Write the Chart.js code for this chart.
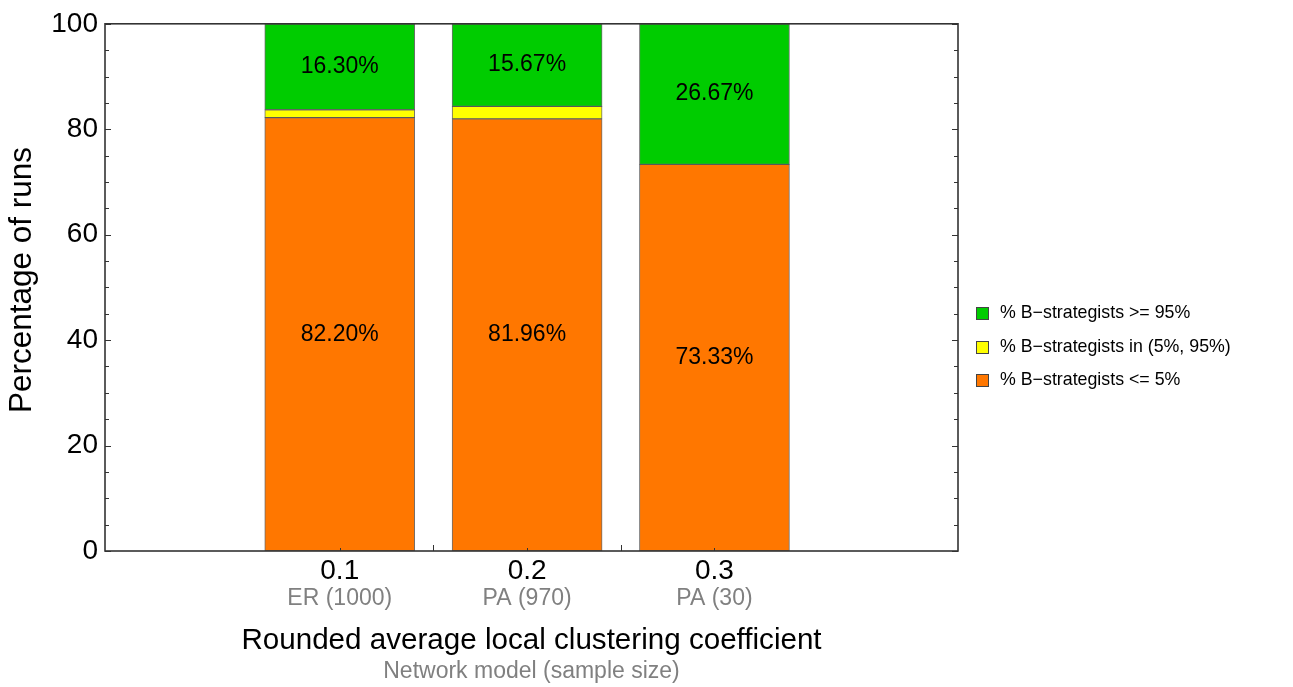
<!DOCTYPE html>
<html>
<head>
<meta charset="utf-8">
<script src="https://cdn.jsdelivr.net/npm/chart.js@4.4.0/dist/chart.umd.min.js"></script>
<style>
  html, body { margin: 0; padding: 0; background: #fff; }
  canvas { display: block; }
</style>
</head>
<body>
<canvas id="myChart" width="1293" height="687"></canvas>
<script>
// Chart data
const categories = [0.1, 0.2, 0.3];
const models = ["ER (1000)", "PA (970)", "PA (30)"];
const lowShare = [82.20, 81.96, 73.33];   // % B-strategists <= 5%
const midShare = [1.50, 2.37, 0];         // % B-strategists in (5%, 95%)
const highShare = [16.30, 15.67, 26.67];  // % B-strategists >= 95%
const seriesLabels = [
    "% B\u2212strategists <= 5%",
    "% B\u2212strategists in (5%, 95%)",
    "% B\u2212strategists >= 95%"
];
const seriesColors = ["rgb(255,119,0)", "rgb(255,255,0)", "rgb(0,204,0)"];
const yTicks = [0, 20, 40, 60, 80, 100];

const FONT = "'Liberation Sans', Arial, sans-serif";

function toPoints(values) {
    return values.map((v, i) => ({ x: categories[i], y: v }));
}

// Frame, tick marks, value labels, sub labels and legend
const decorations = {
    id: "decorations",
    afterDatasetsDraw(chart) {
        const ctx = chart.ctx;
        const area = chart.chartArea;
        const xs = chart.scales.x;
        const ys = chart.scales.y;

        // value labels in the middle of each segment
        ctx.save();
        ctx.fillStyle = "#000";
        ctx.font = "23px " + FONT;
        ctx.textAlign = "center";
        ctx.textBaseline = "middle";
        chart.data.datasets.forEach((ds, di) => {
            const meta = chart.getDatasetMeta(di);
            meta.data.forEach((bar, i) => {
                const v = ds.data[i].y;
                if (v < 5) return;
                ctx.fillText(v.toFixed(2) + "%", bar.x, (bar.y + bar.base) / 2);
            });
        });
        ctx.restore();

        // minor/major ticks on left and right sides
        ctx.save();
        ctx.strokeStyle = "#333";
        ctx.lineWidth = 1;
        for (let v = 0; v <= 100; v += 5) {
            const y = Math.round(ys.getPixelForValue(v)) + 0.5;
            const len = v % 20 === 0 ? 6 : 4;
            ctx.beginPath();
            ctx.moveTo(area.left, y);
            ctx.lineTo(area.left + len, y);
            ctx.moveTo(area.right, y);
            ctx.lineTo(area.right - len, y);
            ctx.stroke();
        }
        // bottom ticks: small at category, larger between bars
        categories.forEach((c, i) => {
            const x = Math.round(xs.getPixelForValue(c)) + 0.5;
            ctx.beginPath();
            ctx.moveTo(x, area.bottom);
            ctx.lineTo(x, area.bottom - 3);
            ctx.stroke();
            if (i < categories.length - 1) {
                const xm = Math.round(xs.getPixelForValue((c + categories[i + 1]) / 2)) + 0.5;
                ctx.beginPath();
                ctx.moveTo(xm, area.bottom);
                ctx.lineTo(xm, area.bottom - 6);
                ctx.stroke();
            }
        });

        // frame
        ctx.lineWidth = 1.6;
        ctx.strokeStyle = "#333";
        ctx.strokeRect(area.left, area.top, area.right - area.left, area.bottom - area.top);
        ctx.restore();

        // y axis title
        ctx.save();
        ctx.fillStyle = "#000";
        ctx.font = "31.5px " + FONT;
        ctx.textAlign = "center";
        ctx.textBaseline = "middle";
        ctx.translate(22, 280);
        ctx.rotate(-Math.PI / 2);
        ctx.fillText("Percentage of runs", 0, 0);
        ctx.restore();

        // second line of x labels and sub title
        ctx.save();
        ctx.fillStyle = "#808080";
        ctx.textAlign = "center";
        ctx.textBaseline = "middle";
        ctx.font = "23px " + FONT;
        categories.forEach((c, i) => {
            ctx.fillText(models[i], xs.getPixelForValue(c), 599);
        });
        ctx.fillText("Network model (sample size)", (area.left + area.right) / 2, 672);
        ctx.restore();

        // legend (top item is the top segment)
        ctx.save();
        ctx.font = "17.8px " + FONT;
        ctx.textAlign = "left";
        ctx.textBaseline = "middle";
        const legendY = [380, 347, 313];
        chart.data.datasets.forEach((ds, di) => {
            const y = legendY[di];
            ctx.fillStyle = ds.backgroundColor;
            ctx.fillRect(976, y - 6, 12, 12);
            ctx.strokeStyle = "#444";
            ctx.lineWidth = 1;
            ctx.strokeRect(976.5, y - 5.5, 12, 12);
            ctx.fillStyle = "#000";
            ctx.fillText(ds.label, 1000, y);
        });
        ctx.restore();
    }
};

const ctx = document.getElementById("myChart").getContext("2d");
const chartInstance = new Chart(ctx, {
    type: "bar",
    data: {
        datasets: [0, 1, 2].map(k => ({
            label: seriesLabels[k],
            data: toPoints([lowShare, midShare, highShare][k]),
            backgroundColor: seriesColors[k],
            borderColor: "rgba(60,60,60,0.75)",
            borderWidth: 1,
            borderSkipped: false,
            barThickness: 150,
            grouped: false
        }))
    },
    options: {
        responsive: false,
        devicePixelRatio: 1,
        animation: false,
        layout: { padding: { left: 0, top: 23, right: 335, bottom: 0 } },
        plugins: {
            legend: { display: false },
            tooltip: { enabled: false }
        },
        scales: {
            x: {
                type: "linear",
                stacked: true,
                offset: false,
                min: -0.0253,
                max: 0.43,
                grid: { display: false, drawTicks: false, offset: false },
                border: { display: false },
                afterBuildTicks: scale => {
                    scale.ticks = categories.map(v => ({ value: v }));
                },
                afterFit: scale => { scale.height = 136; },
                ticks: {
                    color: "#000",
                    font: { family: FONT, size: 28 },
                    padding: 3,
                    maxRotation: 0,
                    autoSkip: false,
                    callback: v => Number(v).toFixed(1)
                },
                title: {
                    display: true,
                    text: "Rounded average local clustering coefficient",
                    color: "#000",
                    font: { family: FONT, size: 29.6 },
                    padding: { top: 0, bottom: 28 }
                }
            },
            y: {
                stacked: true,
                min: 0,
                max: 100,
                grid: { display: false, drawTicks: false },
                border: { display: false },
                afterBuildTicks: scale => {
                    scale.ticks = yTicks.map(v => ({ value: v }));
                },
                afterFit: scale => { scale.width = 105; },
                ticks: {
                    color: "#000",
                    font: { family: FONT, size: 28 },
                    padding: 7
                },
                title: { display: false }
            }
        }
    },
    plugins: [decorations]
});
</script>
</body>
</html>
